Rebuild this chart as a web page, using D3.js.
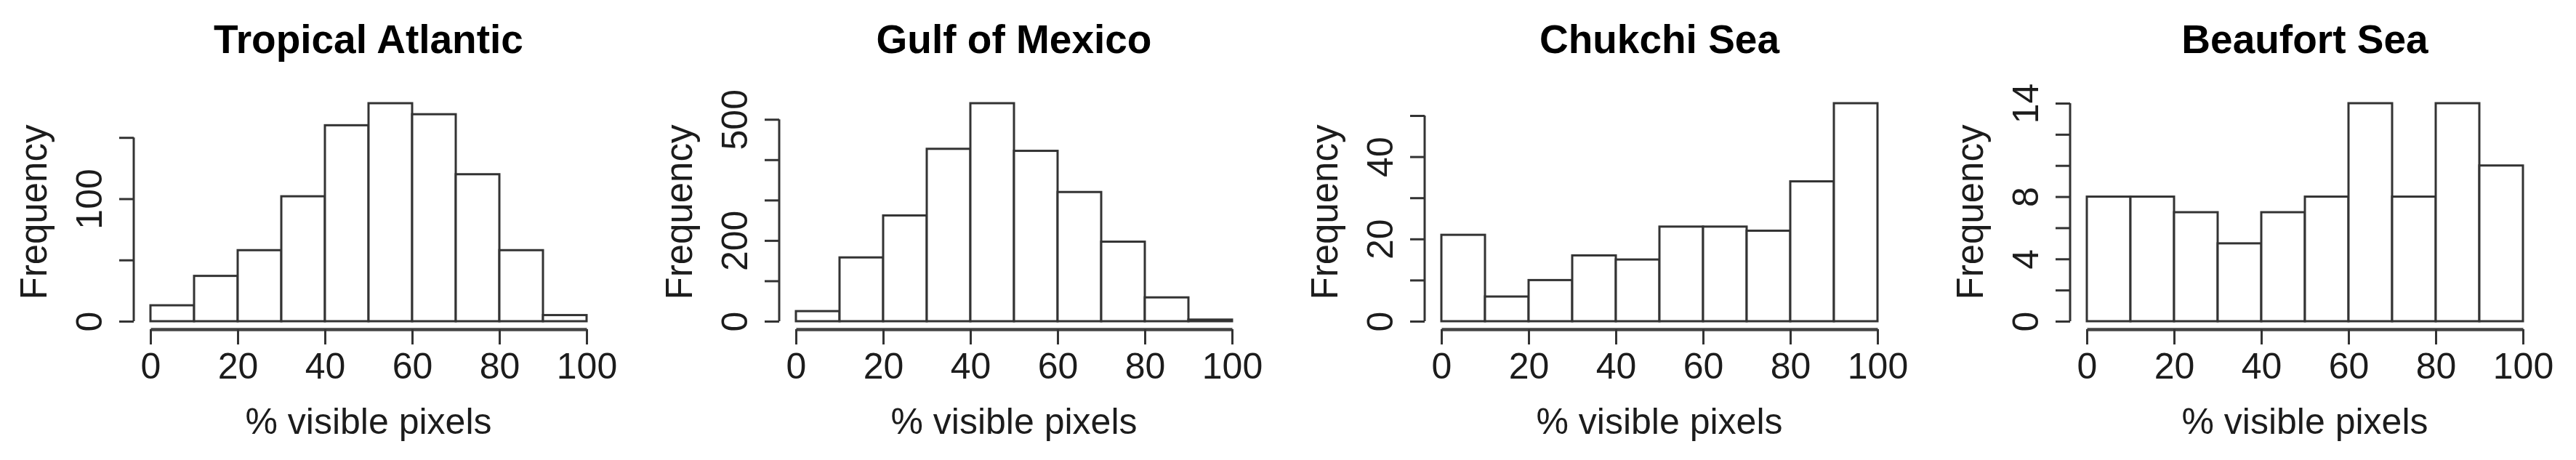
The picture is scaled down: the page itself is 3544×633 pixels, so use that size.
<!DOCTYPE html>
<html>
<head>
<meta charset="utf-8">
<title>Visible pixels histograms</title>
<script src="https://cdn.jsdelivr.net/npm/d3@7"></script>
<style>
  html, body { margin: 0; padding: 0; background: #fff; }
  svg { display: block; filter: blur(0.7px); }
  text { font-family: "Liberation Sans", Arial, sans-serif; fill: #1c1c1c; }
  .chart-title { font-size: 55px; font-weight: bold; fill: #000; }
  .axis-label, .tick text { font-size: 50px; }
  .y-label { font-size: 51px; }
  .bar { fill: #fff; stroke: #333; stroke-width: 3px; }
  .axis path, .axis line { stroke: #333; stroke-width: 3px; }
  .x-axis path { stroke-width: 4.5px; stroke: #444; }
</style>
</head>
<body>
<div id="chart"></div>
<script>
// Sample data
const binEdges = [0, 10, 20, 30, 40, 50, 60, 70, 80, 90, 100];
const regionTitles = ["Tropical Atlantic", "Gulf of Mexico", "Chukchi Sea", "Beaufort Sea"];

const tropicalCounts = [13, 37, 58, 102, 160, 178, 169, 120, 58, 5];
const gulfCounts = [25, 158, 262, 427, 540, 422, 320, 197, 59, 4];
const chukchiCounts = [21, 6, 10, 16, 15, 23, 23, 22, 34, 53];
const beaufortCounts = [8, 8, 7, 5, 7, 8, 14, 8, 14, 10];

const xTicks = [0, 20, 40, 60, 80, 100];
const tropicalTicks = [0, 50, 100, 150];
const gulfTicks = [0, 100, 200, 300, 400, 500];
const chukchiTicks = [0, 10, 20, 30, 40, 50];
const beaufortTicks = [0, 2, 4, 6, 8, 10, 12, 14];

// R skips the tick labels that would collide, so only these are printed
const tropicalLabels = [0, 100];
const gulfLabels = [0, 200, 500];
const chukchiLabels = [0, 20, 40];
const beaufortLabels = [0, 4, 8, 14];

const xLabelText = "% visible pixels";
const yLabelText = "Frequency";

// Dimensions
const width = 3544;
const height = 633;
const panelLeft = [207, 1095, 1983, 2871];
const panelWidth = 600;
const baseY = 442;
const topY = 142;

const svg = d3.select("#chart")
  .append("svg")
  .attr("width", width)
  .attr("height", height);

svg.append("rect")
  .attr("width", width)
  .attr("height", height)
  .attr("fill", "#fff");

function drawPanel(left, title, counts, yTicks, yLabels) {
  const g = svg.append("g").attr("transform", `translate(${left},0)`);

  const x = d3.scaleLinear()
    .domain([binEdges[0], binEdges[binEdges.length - 1]])
    .range([0, panelWidth]);
  const y = d3.scaleLinear()
    .domain([0, d3.max(counts)])
    .range([baseY, topY]);

  // Bars
  g.selectAll(".bar")
    .data(counts)
    .join("rect")
    .attr("class", "bar")
    .attr("x", (d, i) => x(binEdges[i]))
    .attr("y", d => y(d))
    .attr("width", (d, i) => x(binEdges[i + 1]) - x(binEdges[i]))
    .attr("height", d => y(0) - y(d));

  // x axis, set below the bars like base R does
  const xAxis = g.append("g")
    .attr("class", "axis x-axis")
    .attr("transform", "translate(0,453)")
    .call(d3.axisBottom(x).tickValues(xTicks).tickSize(21).tickSizeOuter(0).tickFormat(d3.format("d")));
  xAxis.selectAll("text").attr("y", 0).attr("dy", 68);

  // y axis, rotated labels
  const yAxis = g.append("g")
    .attr("class", "axis")
    .attr("transform", "translate(-23,0)")
    .call(d3.axisLeft(y).tickValues(yTicks).tickSize(20).tickSizeOuter(0)
      .tickFormat(d => yLabels.includes(d) ? d : ""));
  yAxis.select(".domain")
    .attr("d", `M0,${y(yTicks[0])}V${y(yTicks[yTicks.length - 1])}`);
  yAxis.selectAll("text")
    .attr("transform", "rotate(-90)")
    .attr("x", 0)
    .attr("y", -44)
    .attr("dy", 0)
    .attr("text-anchor", "middle");

  // Title and axis labels
  g.append("text")
    .attr("class", "chart-title")
    .attr("x", panelWidth / 2)
    .attr("y", 73)
    .attr("text-anchor", "middle")
    .text(title);

  g.append("text")
    .attr("class", "axis-label")
    .attr("x", panelWidth / 2)
    .attr("y", 597)
    .attr("text-anchor", "middle")
    .text(xLabelText);

  g.append("text")
    .attr("class", "y-label")
    .attr("transform", `translate(-143,${(baseY + topY) / 2}) rotate(-90)`)
    .attr("text-anchor", "middle")
    .text(yLabelText);
}

drawPanel(panelLeft[0], regionTitles[0], tropicalCounts, tropicalTicks, tropicalLabels);
drawPanel(panelLeft[1], regionTitles[1], gulfCounts, gulfTicks, gulfLabels);
drawPanel(panelLeft[2], regionTitles[2], chukchiCounts, chukchiTicks, chukchiLabels);
drawPanel(panelLeft[3], regionTitles[3], beaufortCounts, beaufortTicks, beaufortLabels);
</script>
</body>
</html>
